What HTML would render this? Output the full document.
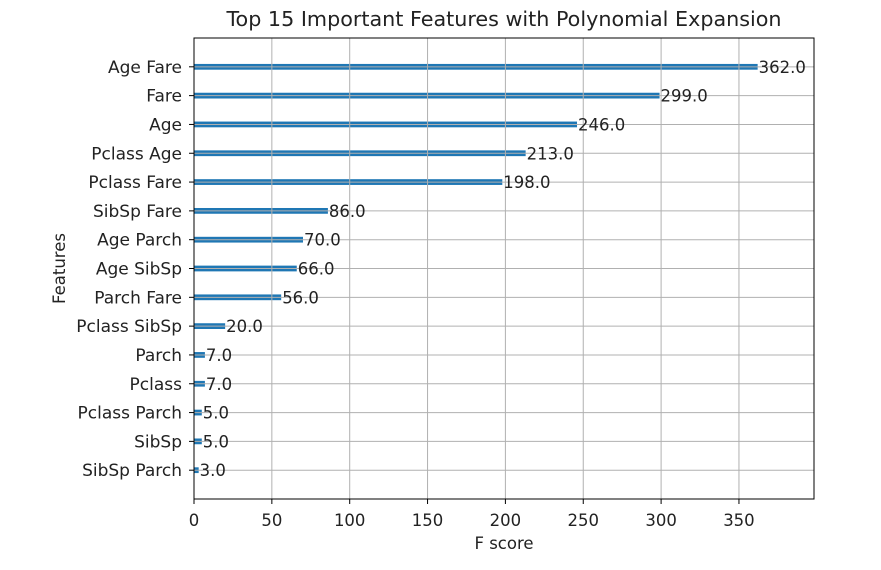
<!DOCTYPE html>
<html><head><meta charset="utf-8"><style>
body{margin:0;background:#fff;}
svg text{font-family:"DejaVu Sans","Liberation Sans",sans-serif;fill:#222;}
</style></head><body>
<svg id="chart" width="881" height="565" xmlns="http://www.w3.org/2000/svg"></svg>
<script>
const features = ["Age Fare","Fare","Age","Pclass Age","Pclass Fare","SibSp Fare","Age Parch","Age SibSp","Parch Fare","Pclass SibSp","Parch","Pclass","Pclass Parch","SibSp","SibSp Parch"];
const scores = [362,299,246,213,198,86,70,66,56,20,7,7,5,5,3];
const xTicks = [0,50,100,150,200,250,300,350];
const L=194,R=814,T=38,B=499;
const xmax=398.2;
const x=v=>L+(R-L)*v/xmax;
const n=features.length;
const y=i=>{const idx=n-1-i;return B-(B-T)*(idx+1)/(n+1);};
const svg=document.getElementById('chart');
const NS="http://www.w3.org/2000/svg";
function mk(tag,attrs,text){const e=document.createElementNS(NS,tag);for(const k in attrs)e.setAttribute(k,attrs[k]);if(text!==undefined)e.textContent=text;svg.appendChild(e);return e;}
const bh=(B-T)/(n+1)*0.2;
features.forEach((f,i)=>{
  const r=mk('rect',{x:L,y:y(i)-bh/2,width:x(scores[i])-L,height:bh,fill:'#1f77b4'});
  
  
});
xTicks.forEach(t=>{
  const g=mk('line',{x1:x(t),x2:x(t),y1:T,y2:B,stroke:'#b0b0b0','stroke-width':1});
  
  
  mk('line',{x1:x(t),x2:x(t),y1:B,y2:B+5,stroke:'#000'});
  const tl=mk('text',{x:x(t),y:B+27,'text-anchor':'middle','font-size':16.5},String(t));
  
  
});
features.forEach((f,i)=>{
  const g=mk('line',{x1:L,x2:R,y1:y(i),y2:y(i),stroke:'#b0b0b0','stroke-width':1});
  
  
  mk('line',{x1:L-5,x2:L,y1:y(i),y2:y(i),stroke:'#000'});
  const tl=mk('text',{x:L-12,y:y(i)+6,'text-anchor':'end','font-size':17},f);
  
  
  const vl=mk('text',{x:x(scores[i])+1,y:y(i)+6,'font-size':16.5},scores[i].toFixed(1));
  
  
});
const fr=mk('rect',{x:L,y:T,width:R-L,height:B-T,fill:'none',stroke:'#000','stroke-width':1});


const ti=mk('text',{x:(L+R)/2,y:26,'text-anchor':'middle','font-size':20.7},'Top 15 Important Features with Polynomial Expansion');


const xt=mk('text',{x:(L+R)/2,y:549,'text-anchor':'middle','font-size':16.5},'F score');


const yt=mk('text',{x:0,y:0,'text-anchor':'middle','font-size':16.5,transform:'translate(65,'+((T+B)/2)+') rotate(-90)'},'Features');


</script>
</body></html>
